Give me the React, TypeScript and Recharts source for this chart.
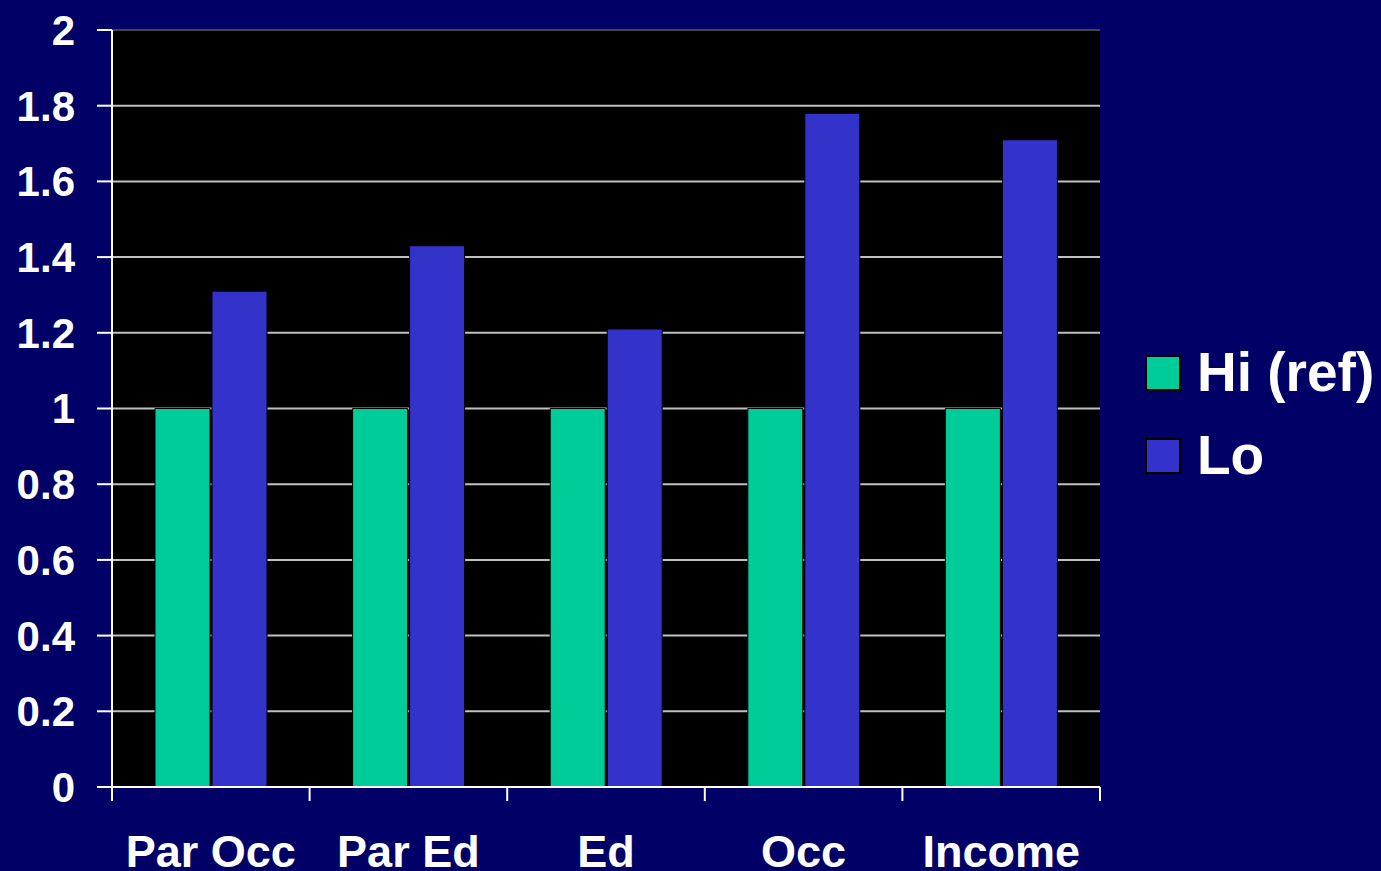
import { BarChart, Bar, XAxis, YAxis, CartesianGrid, ReferenceLine } from 'recharts';

const categories = ['Par Occ', 'Par Ed', 'Ed', 'Occ', 'Income'];
const hiValues = [1, 1, 1, 1, 1];
const loValues = [1.31, 1.43, 1.21, 1.78, 1.71];
const yTicks = [0, 0.2, 0.4, 0.6, 0.8, 1, 1.2, 1.4, 1.6, 1.8, 2];

const NAVY = '#000066';
const GREEN = '#00CC99';
const BLUE = '#3333CC';
const FONT = '"Liberation Sans", Arial, sans-serif';

const data = categories.map((name, i) => ({ name, hi: hiValues[i], lo: loValues[i] }));

const series = [
  { key: 'hi', label: 'Hi (ref)', color: GREEN },
  { key: 'lo', label: 'Lo', color: BLUE },
];

function XTick(props: any) {
  const { x, y, payload, index, visibleTicksCount } = props;
  const half = payload && payload.offset ? payload.offset : 98.8;
  const last = index === (visibleTicksCount ?? categories.length) - 1;
  return (
    <g>
      <line x1={x - half} x2={x - half} y1={y} y2={y + 14} stroke="#fff" strokeWidth={2} />
      {last && <line x1={x + half} x2={x + half} y1={y} y2={y + 14} stroke="#fff" strokeWidth={2} />}
      <text x={x} y={y + 48} dy="0.71em" textAnchor="middle" fill="#fff" fontFamily={FONT} fontWeight="bold" fontSize={45}>
        {payload.value}
      </text>
    </g>
  );
}

function LegendBox() {
  return (
    <div style={{ position: 'absolute', left: 1145, top: 331, fontFamily: FONT, fontWeight: 'bold', color: '#fff' }}>
      {series.map(s => (
        <div key={s.key} style={{ display: 'flex', alignItems: 'center', height: 83 }}>
          <div style={{ width: 32, height: 32, background: s.color, border: '2px solid #000', marginRight: 16 }} />
          <span style={{ fontSize: 55, lineHeight: 1 }}>{s.label}</span>
        </div>
      ))}
    </div>
  );
}

export default function App() {
  return (
    <div style={{ position: 'absolute', left: 0, top: 0, width: 1381, height: 871, background: NAVY, overflow: 'hidden' }}>
      <BarChart
        width={1381}
        height={871}
        data={data}
        margin={{ top: 30, right: 281, bottom: 0, left: 0 }}
        barCategoryGap={43}
        barGap={2}
      >
        <CartesianGrid vertical={false} fill="#000" stroke="#c0c0c0" strokeWidth={2} />
        <ReferenceLine y={2} stroke="#444" strokeWidth={2} />
        <XAxis
          dataKey="name"
          height={84}
          axisLine={{ stroke: '#fff', strokeWidth: 2 }}
          tickLine={false}
          tickSize={0}
          tickMargin={0}
          tick={<XTick />}
          interval={0}
        />
        <YAxis
          width={112}
          domain={[0, 2]}
          ticks={yTicks}
          interval={0}
          axisLine={{ stroke: '#fff', strokeWidth: 2 }}
          tickLine={{ stroke: '#fff', strokeWidth: 2 }}
          tickSize={15}
          tickMargin={22}
          tick={{ fill: '#fff', fontSize: 42, fontWeight: 'bold', fontFamily: FONT }}
        />
        {series.map(s => (
          <Bar key={s.key} dataKey={s.key} fill={s.color} stroke="#000" strokeWidth={1} isAnimationActive={false} />
        ))}
      </BarChart>
      <LegendBox />
    </div>
  );
}
